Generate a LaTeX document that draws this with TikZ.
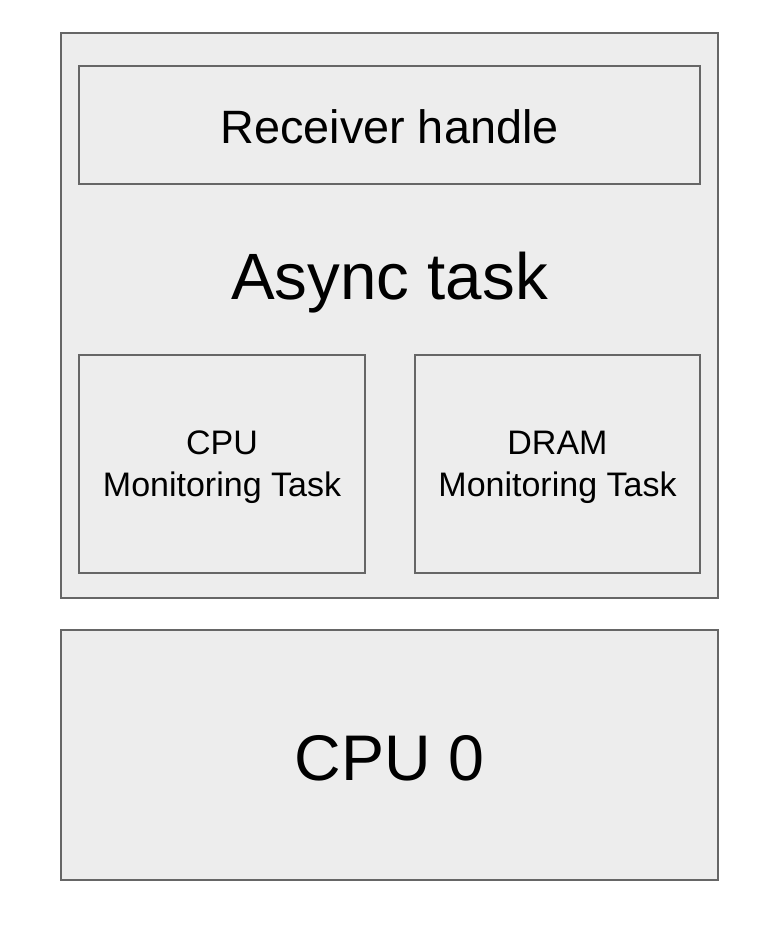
\documentclass[tikz,border=0pt]{standalone}
\usepackage{fontspec}
\setmainfont{Liberation Sans}
\usepackage{tikz}
\usetikzlibrary{calc}

\begin{document}
\begin{tikzpicture}[x=1pt,y=-1pt,line join=miter]
	\tikzstyle{box}=[draw=black!60,fill=black!7,line width=1.6pt,inner sep=0pt];
	\tikzstyle{big}=[font=\fontsize{65.5}{78}\selectfont];
	\tikzstyle{mid}=[font=\fontsize{46.8}{55}\selectfont];
	\tikzstyle{small}=[font=\fontsize{34}{42}\selectfont,align=center];

	\useasboundingbox (0,0) rectangle (782,938);
	\node[box,minimum width=657pt,minimum height=565pt] (async) at (389.5,315.5) {};
	\node[box,mid,minimum width=621pt,minimum height=118pt] (recv) at (389.5,125) {};
	\node[mid] (recvlabel) at (389.5,127) {Receiver handle};
	\node[big] (asynclabel) at (389.5,283) {Async task};
	\node[box,minimum width=286pt,minimum height=218pt] (cpumon) at (222,464) {};
	\node[small] (cpumonlabel) at (222,467) {CPU\\Monitoring Task};
	\node[box,minimum width=285pt,minimum height=218pt] (drammon) at (557.5,464) {};
	\node[small] (drammonlabel) at (557.5,467) {DRAM\\Monitoring Task};
	\node[box,minimum width=657pt,minimum height=250pt] (cpu) at (389.5,755) {};
	\node[big,font=\fontsize{64.5}{77}\selectfont] (cpulabel) at (389.5,758) {CPU 0};
\end{tikzpicture}
\end{document}
